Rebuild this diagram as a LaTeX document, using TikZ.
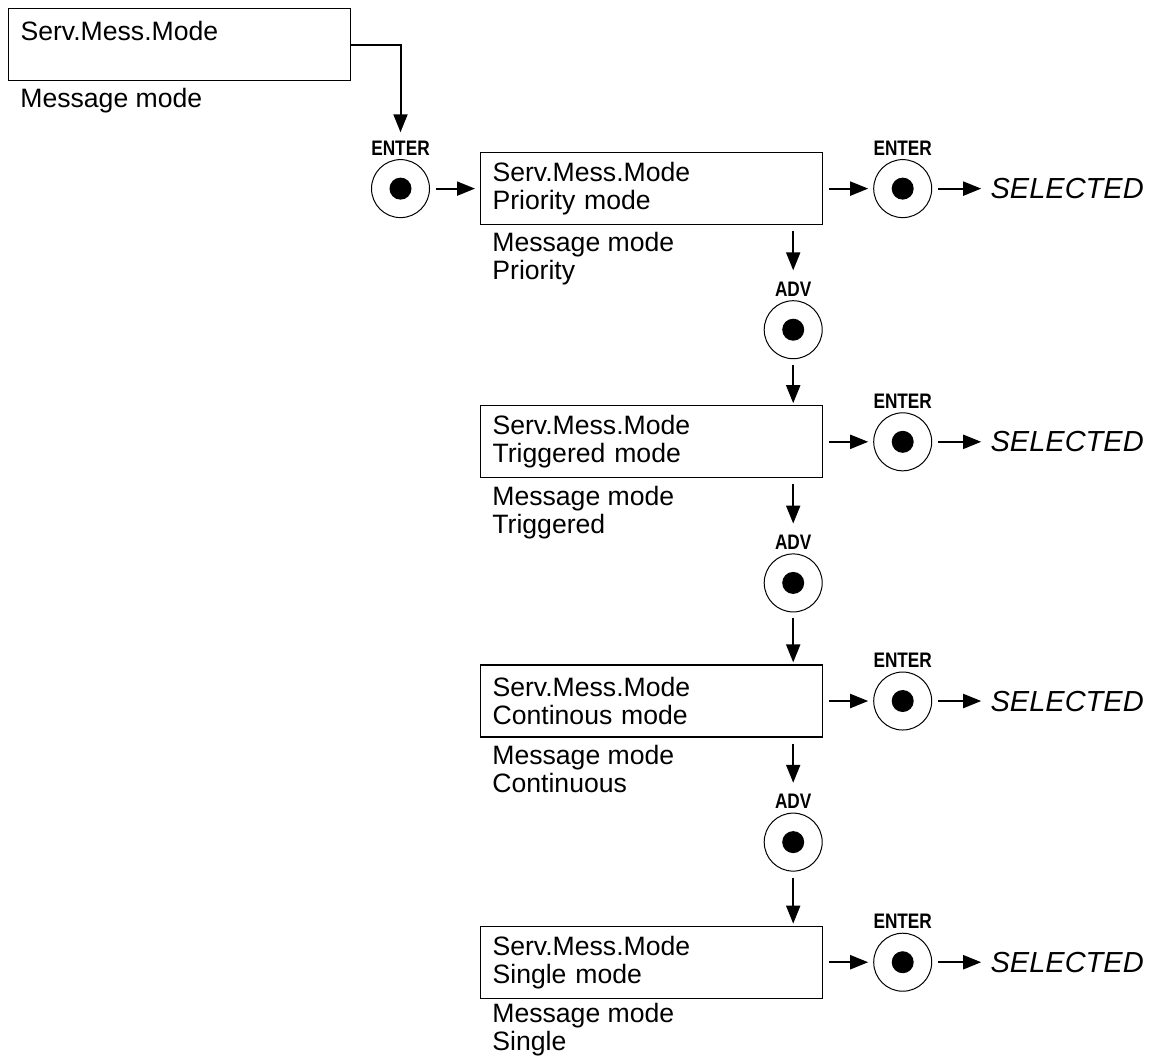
\documentclass[tikz,border=0pt]{standalone}
\usepackage{fontspec}
\setmainfont{Liberation Sans}
\newfontfamily\keyfont[FakeStretch=0.82]{Liberation Sans Bold}
\usetikzlibrary{arrows.meta,positioning}

\begin{document}
\begin{tikzpicture}[>={Triangle[length=9pt,width=7pt]},font=\fontsize{13.3pt}{14pt}\selectfont,
 box/.style={draw,line width=0.6pt,align=left,text width=159pt,inner xsep=6pt,inner ysep=3pt,minimum height=36pt},
 note/.style={align=left,inner xsep=6pt,inner ysep=3.5pt},
 btn/.style={circle,draw,line width=0.5pt,minimum size=29pt,inner sep=0pt,
  path picture={\fill (path picture bounding box.center) circle (5.5pt);}},
 key/.style={font=\keyfont\fontsize{10.5pt}{12pt}\selectfont,inner sep=1pt},
 sel/.style={font=\fontsize{14.5pt}{17pt}\selectfont\itshape,inner xsep=2pt},
 link/.style={->,line width=1pt,shorten <=3pt,shorten >=2.5pt}]
\useasboundingbox (0,0) rectangle (577.5pt,-528.5pt);
\node[box,anchor=north west] (menu) at (4pt,-4pt) {Serv.Mess.Mode\\\mbox{}};
\node[note,below right=0pt and 0pt of menu.south west] (menunote) {Message mode};
\node[box,anchor=north west] (prio) at (240pt,-76pt) {Serv.Mess.Mode\\Priority mode};
\node[box,below=90pt of prio] (trig) {Serv.Mess.Mode\\Triggered mode};
\node[box,below=93pt of trig] (cont) {Serv.Mess.Mode\\Continous mode};
\node[box,below=94pt of cont] (single) {Serv.Mess.Mode\\Single mode};
\node[note,below right=0pt and 0pt of prio.south west] (prionote) {Message mode\\Priority};
\node[note,below right=0pt and 0pt of trig.south west] (trignote) {Message mode\\Triggered};
\node[note,below right=0pt and 0pt of cont.south west] (contnote) {Message mode\\Continuous};
\node[note,below right=-1.5pt and 0pt of single.south west] (singlenote) {Message mode\\Single};
\node[btn,left=25pt of prio] (enter0) {};
\node[key,above=0.8pt of enter0] (entert0) {ENTER};
\node[btn,right=25pt of prio] (enter1) {};
\node[key,above=0.8pt of enter1] (entert1) {ENTER};
\node[sel,right=27pt of enter1] (sel1) {SELECTED};
\node[btn,right=25pt of trig] (enter2) {};
\node[key,above=0.8pt of enter2] (entert2) {ENTER};
\node[sel,right=27pt of enter2] (sel2) {SELECTED};
\node[btn,right=25pt of cont] (enter3) {};
\node[key,above=0.8pt of enter3] (entert3) {ENTER};
\node[sel,right=27pt of enter3] (sel3) {SELECTED};
\node[btn,right=25pt of single] (enter4) {};
\node[key,above=0.8pt of enter4] (entert4) {ENTER};
\node[sel,right=27pt of enter4] (sel4) {SELECTED};
\node[btn,below=37.5pt of prio.south east,xshift=-15pt] (adv1) {};
\node[key,above=0.8pt of adv1] (advt1) {ADV};
\node[btn,below=37.5pt of trig.south east,xshift=-15pt] (adv2) {};
\node[key,above=0.8pt of adv2] (advt2) {ADV};
\node[btn,below=37.5pt of cont.south east,xshift=-15pt] (adv3) {};
\node[key,above=0.8pt of adv3] (advt3) {ADV};
\draw[link,shorten <=0pt,shorten >=3pt] (menu.east) -| (entert0);
\draw[link] (enter0)--(prio);
\draw[link] (prio)--(enter1);\draw[link] (enter1)--(sel1);
\draw[link] (trig)--(enter2);\draw[link] (enter2)--(sel2);
\draw[link] (cont)--(enter3);\draw[link] (enter3)--(sel3);
\draw[link] (single)--(enter4);\draw[link] (enter4)--(sel4);
\draw[link,shorten >=4.5pt] (prio.south -| adv1)--(advt1);\draw[link,shorten >=1pt] (adv1)--(adv1 |- trig.north);
\draw[link,shorten >=4.5pt] (trig.south -| adv2)--(advt2);\draw[link,shorten >=1pt] (adv2)--(adv2 |- cont.north);
\draw[link,shorten >=4.5pt] (cont.south -| adv3)--(advt3);\draw[link,shorten >=1pt] (adv3)--(adv3 |- single.north);
\end{tikzpicture}
\end{document}
